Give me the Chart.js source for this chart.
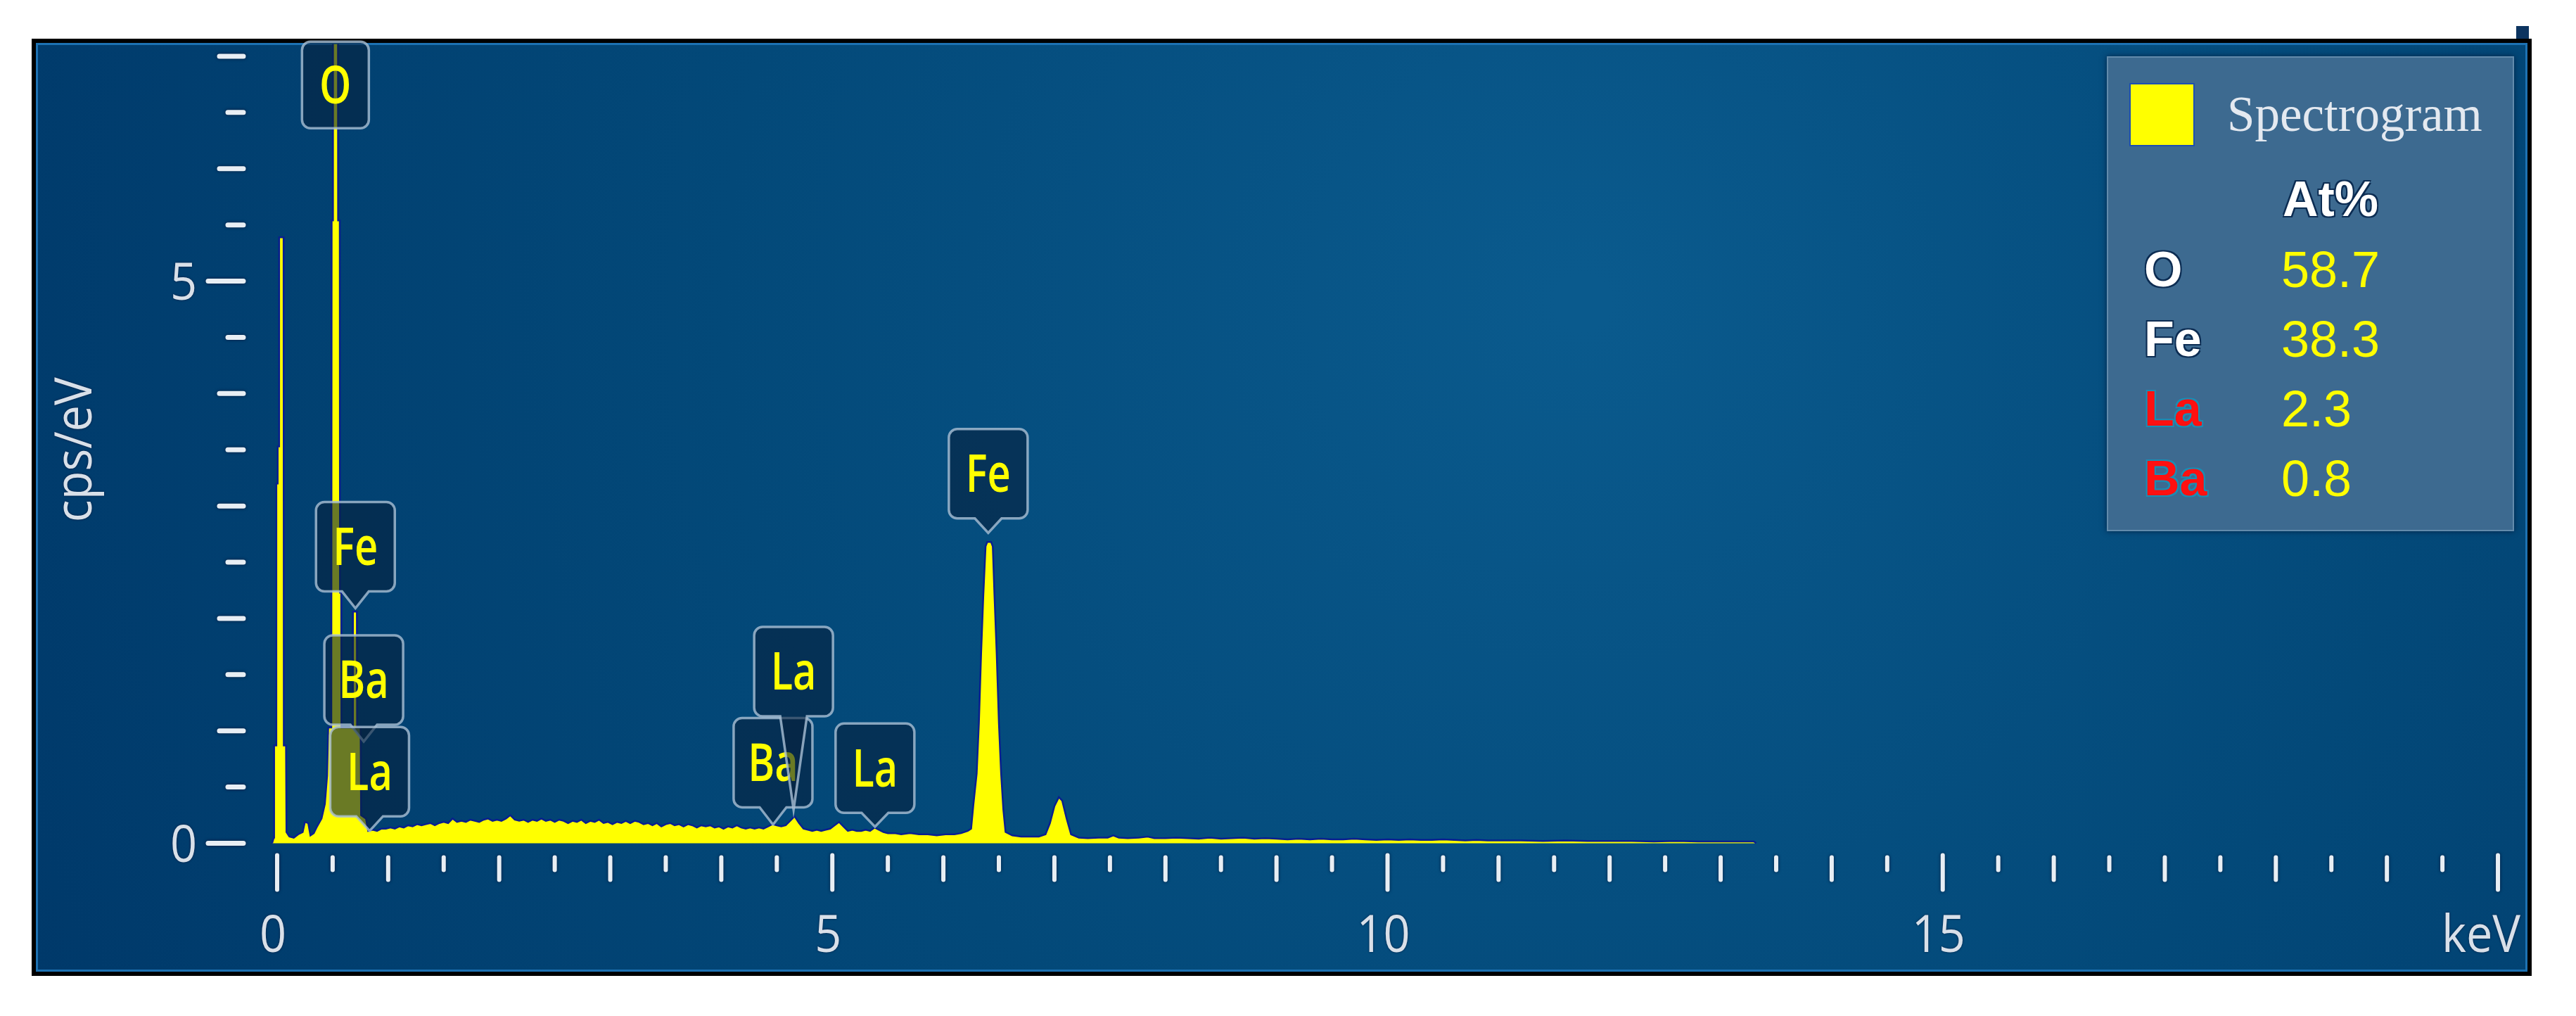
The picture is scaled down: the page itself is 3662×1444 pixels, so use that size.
<!DOCTYPE html>
<html>
<head>
<meta charset="utf-8">
<title>EDS spectrum</title>
<script src="https://cdn.jsdelivr.net/npm/chart.js@4.4.1/dist/chart.umd.min.js"></script>
<style>
  html, body { margin: 0; padding: 0; background: #fff; }
  #wrap { position: relative; width: 3662px; height: 1444px; overflow: hidden; }
  #chart { position: absolute; left: 0; top: 0; }
  .lg-box {
    position: absolute; left: 2995px; top: 80px; width: 579px; height: 675px;
    box-sizing: border-box; background: #3d6a90;
    border: 2px solid rgba(130, 165, 195, 0.55);
    box-shadow: 0 0 8px rgba(0, 20, 50, 0.7);
  }
  .lg-swatch {
    position: absolute; left: 3027px; top: 118px; width: 93px; height: 90px;
    box-sizing: border-box; background: #ffff00; border: 2px solid #1d4fb0;
  }
  .lg-text { position: absolute; white-space: nowrap; }
  .lg-title { font-family: "Liberation Serif", "DejaVu Serif", serif; font-size: 71px; line-height: 71px; color: #e4e9f0; }
  .lg-head {
    font-family: "Liberation Sans", Arial, sans-serif; font-weight: bold; font-size: 70px; line-height: 70px; color: #fff;
    text-shadow: 2px 2px 0 #0c2c52, -2px -2px 0 #0c2c52, 2px -2px 0 #0c2c52, -2px 2px 0 #0c2c52;
  }
  .lg-el {
    font-family: "Liberation Sans", Arial, sans-serif; font-weight: bold; font-size: 70px; line-height: 72px;
  }
  .lg-el.white { color: #fff; text-shadow: 2px 2px 0 #0c2c52, -2px -2px 0 #0c2c52, 2px -2px 0 #0c2c52, -2px 2px 0 #0c2c52; }
  .lg-el.red { color: #ff1010; text-shadow: 2px 2px 0 #1a8db4, -2px -2px 0 #1a8db4, 2px -2px 0 #1a8db4, -2px 2px 0 #1a8db4; }
  .lg-val { font-family: "Liberation Sans", Arial, sans-serif; font-size: 72px; line-height: 72px; color: #ffff00; }
</style>
</head>
<body>
<div id="wrap">
  <canvas id="chart" width="3662" height="1444"></canvas>
</div>
<script>
/* ── Spectrum: energy (keV) / intensity (cps/eV) ── */
var energyKeV = [
  -0.045, -0.03, -0.027, -0.009, -0.007, 0.003, 0.005, 0.016, 0.018, 0.058,
  0.060, 0.080, 0.084, 0.11, 0.15, 0.19, 0.23, 0.25, 0.28, 0.30,
  0.33, 0.36, 0.40, 0.43, 0.45, 0.46, 0.488, 0.491, 0.501, 0.503,
  0.547, 0.549, 0.564, 0.566, 0.577, 0.579, 0.681, 0.683, 0.718, 0.720,
  0.752, 0.756, 0.80, 0.82, 0.86, 0.90, 0.94, 0.98, 1.02, 1.06,
  1.10, 1.14, 1.18, 1.22, 1.26, 1.30, 1.34, 1.38, 1.42, 1.46,
  1.50, 1.54, 1.58, 1.62, 1.66, 1.70, 1.74, 1.78, 1.82, 1.86,
  1.90, 1.94, 1.98, 2.02, 2.06, 2.10, 2.14, 2.18, 2.22, 2.26,
  2.30, 2.34, 2.38, 2.42, 2.46, 2.50, 2.54, 2.58, 2.62, 2.66,
  2.70, 2.74, 2.78, 2.82, 2.86, 2.90, 2.94, 2.98, 3.02, 3.06,
  3.10, 3.14, 3.18, 3.22, 3.26, 3.30, 3.34, 3.38, 3.42, 3.46,
  3.50, 3.54, 3.58, 3.62, 3.66, 3.70, 3.74, 3.78, 3.82, 3.86,
  3.90, 3.94, 3.98, 4.02, 4.06, 4.10, 4.14, 4.18, 4.22, 4.26,
  4.30, 4.34, 4.38, 4.42, 4.46, 4.50, 4.54, 4.58, 4.62, 4.66,
  4.70, 4.74, 4.78, 4.82, 4.86, 4.90, 4.94, 4.98, 5.02, 5.06,
  5.10, 5.14, 5.18, 5.22, 5.26, 5.30, 5.34, 5.38, 5.42, 5.46,
  5.50, 5.56, 5.62, 5.70, 5.78, 5.86, 5.94, 6.02, 6.10, 6.16,
  6.22, 6.25, 6.27, 6.30, 6.32, 6.34, 6.36, 6.38, 6.395, 6.43,
  6.445, 6.46, 6.48, 6.50, 6.52, 6.54, 6.56, 6.62, 6.70, 6.78,
  6.86, 6.92, 6.96, 7.00, 7.04, 7.07, 7.11, 7.15, 7.22, 7.30,
  7.40, 7.48, 7.53, 7.58, 7.66, 7.76, 7.84, 7.90, 8.00, 8.10,
  8.20, 8.30, 8.40, 8.50, 8.60, 8.70, 8.80, 8.90, 9.00, 9.10,
  9.20, 9.30, 9.40, 9.50, 9.60, 9.70, 9.80, 9.90, 10.00, 10.10,
  10.20, 10.30, 10.40, 10.50, 10.60, 10.70, 10.80, 10.90, 11.00, 11.20,
  11.40, 11.60, 11.80, 12.00, 12.20, 12.40, 12.60, 12.80, 13.00, 13.30,
  13.32
];
var countsCps = [
  0, 0.05, 0.87, 0.87, 3.20, 3.20, 3.53, 3.53, 5.39, 5.39,
  0.87, 0.87, 0.10, 0.06, 0.05, 0.08, 0.10, 0.19, 0.18, 0.07,
  0.09, 0.15, 0.22, 0.35, 0.60, 1.03, 1.03, 5.54, 5.54, 9.0,
  9.0, 5.54, 5.54, 2.23, 2.23, 1.03, 1.03, 2.06, 2.06, 1.03,
  1.03, 0.25, 0.22, 0.11, 0.12, 0.11, 0.13, 0.13, 0.14, 0.13,
  0.15, 0.14, 0.16, 0.15, 0.17, 0.16, 0.17, 0.18, 0.16, 0.18,
  0.19, 0.18, 0.22, 0.19, 0.20, 0.19, 0.21, 0.20, 0.19, 0.21,
  0.22, 0.20, 0.21, 0.20, 0.22, 0.25, 0.21, 0.20, 0.21, 0.19,
  0.21, 0.20, 0.22, 0.20, 0.21, 0.19, 0.21, 0.20, 0.18, 0.20,
  0.19, 0.21, 0.18, 0.20, 0.19, 0.21, 0.18, 0.19, 0.17, 0.19,
  0.18, 0.20, 0.18, 0.20, 0.19, 0.17, 0.18, 0.16, 0.18, 0.15,
  0.17, 0.18, 0.16, 0.17, 0.15, 0.17, 0.16, 0.14, 0.16, 0.15,
  0.16, 0.14, 0.15, 0.13, 0.15, 0.14, 0.16, 0.14, 0.13, 0.14,
  0.13, 0.14, 0.13, 0.15, 0.17, 0.16, 0.15, 0.16, 0.20, 0.24,
  0.18, 0.13, 0.12, 0.11, 0.12, 0.11, 0.12, 0.13, 0.16, 0.19,
  0.15, 0.11, 0.12, 0.11, 0.11, 0.12, 0.11, 0.14, 0.12, 0.10,
  0.09, 0.09, 0.08, 0.09, 0.08, 0.08, 0.07, 0.08, 0.08, 0.09,
  0.11, 0.13, 0.34, 0.62, 1.07, 1.69, 2.21, 2.64, 2.68, 2.68,
  2.64, 2.21, 1.69, 1.07, 0.62, 0.30, 0.10, 0.07, 0.06, 0.06,
  0.06, 0.08, 0.18, 0.33, 0.41, 0.38, 0.22, 0.08, 0.05, 0.045,
  0.05, 0.05, 0.07, 0.05, 0.045, 0.05, 0.06, 0.045, 0.045, 0.05,
  0.045, 0.04, 0.05, 0.04, 0.045, 0.05, 0.04, 0.045, 0.04, 0.035,
  0.04, 0.035, 0.04, 0.035, 0.035, 0.04, 0.035, 0.03, 0.035, 0.03,
  0.035, 0.03, 0.03, 0.035, 0.03, 0.025, 0.03, 0.025, 0.025, 0.025,
  0.02, 0.025, 0.02, 0.02, 0.02, 0.015, 0.02, 0.015, 0.015, 0.015,
  0
];

/* ── Axis ticks and labels ─────────────────────────────────────── */
var xTickStep = 0.5;                    // keV between x tick marks
var xLabelValues = [0, 5, 10, 15, 20];
var xLabelTexts = ['0', '5', '10', '15', 'keV'];
var yTickStep = 0.5;                    // cps/eV between y tick marks
var yLabelValues = [0, 5];
var yLabelTexts = ['0', '5'];
var yAxisTitle = 'cps/eV';

/* ── Peak identification boxes ─────────────────────────────────── */
var peakNames  = ['O', 'Fe', 'Ba', 'La', 'Ba', 'La', 'La', 'Fe'];
var peakEnergy = [0.525, 0.705, 0.78, 0.833, 4.466, 4.651, 5.384, 6.404];
var peakBoxBottom = [6.36, 2.24, 1.055, 0.24, 0.32, 1.13, 0.27, 2.89];
var peakTip = [6.36, 2.09, 0.905, 0.11, 0.166, 0.30, 0.147, 2.76];

/* ── Quantification table ──────────────────────────────────────── */
var legendSeries = 'Spectrogram';
var legendHeader = 'At%';
var legendElements = ['O', 'Fe', 'La', 'Ba'];
var legendAtPct = ['58.7', '38.3', '2.3', '0.8'];
var legendElementRed = [false, false, true, true];

var TICK_COLOR = '#e8eef4';
var LABEL_COLOR = '#d9e0e9';
var LABEL_FONT = '74px "Open Sans", "Noto Sans", sans-serif';

function scaledText(ctx, str, x, y, align, sx) {
  ctx.save();
  ctx.translate(x, y);
  ctx.scale(sx, 1);
  ctx.textAlign = align;
  ctx.textBaseline = 'alphabetic';
  ctx.fillText(str, 0, 0);
  ctx.restore();
}

/* panel: white page, black frame, blue gradient */
var panelPlugin = {
  id: 'panel',
  beforeDraw: function(chart) {
    var ctx = chart.ctx;
    ctx.save();
    ctx.fillStyle = '#ffffff';
    ctx.fillRect(0, 0, chart.width, chart.height);
    ctx.fillStyle = '#0c3460';
    ctx.fillRect(3577, 37, 18, 18);
    ctx.fillStyle = '#000000';
    ctx.fillRect(45, 55, 3554, 1332);
    var g = ctx.createRadialGradient(2250, 430, 40, 2250, 430, 2400);
    g.addColorStop(0, '#0a5a8d');
    g.addColorStop(0.5, '#034979');
    g.addColorStop(1, '#00396a');
    ctx.fillStyle = g;
    ctx.fillRect(51, 61, 3542, 1320);
    ctx.strokeStyle = '#1d72b3';
    ctx.lineWidth = 3;
    ctx.strokeRect(52.5, 62.5, 3539, 1317);
    ctx.restore();
  }
};

/* tick marks and tick labels, placed through the chart scales */
var axisPlugin = {
  id: 'axisMarks',
  afterDraw: function(chart) {
    var ctx = chart.ctx;
    var xs = chart.scales.x, ys = chart.scales.y;
    var x0 = xs.getPixelForValue(0);
    var y0 = ys.getPixelForValue(0);
    var v, p, len;
    ctx.save();
    ctx.strokeStyle = TICK_COLOR;
    ctx.lineCap = 'round';
    ctx.shadowColor = 'rgba(0, 10, 40, 0.7)';
    ctx.shadowBlur = 4;

    // x ticks
    ctx.lineWidth = 6;
    for (v = 0; v <= 20 + 1e-9; v += xTickStep) {
      p = xs.getPixelForValue(v);
      var r = Math.round(v * 2) / 2;
      len = (r % 5 === 0) ? 49 : (r % 1 === 0) ? 32 : 18;
      var top = y0 + (r % 5 === 0 ? 17 : 20);
      ctx.beginPath();
      ctx.moveTo(p, top);
      ctx.lineTo(p, top + len);
      ctx.stroke();
    }

    // y ticks
    ctx.lineWidth = 7;
    for (v = 0; v <= 7 + 1e-9; v += yTickStep) {
      p = ys.getPixelForValue(v);
      var q = Math.round(v * 2) / 2;
      var start = (q % 5 === 0) ? x0 - 98 : (q % 1 === 0) ? x0 - 82 : x0 - 70;
      ctx.beginPath();
      ctx.moveTo(start, p);
      ctx.lineTo(x0 - 48, p);
      ctx.stroke();
    }

    // labels
    ctx.shadowBlur = 3;
    ctx.fillStyle = LABEL_COLOR;
    ctx.font = LABEL_FONT;
    xLabelValues.forEach(function(val, i) {
      var px = xs.getPixelForValue(val);
      if (xLabelTexts[i] === 'keV') {
        scaledText(ctx, xLabelTexts[i], px + 32, y0 + 154, 'right', 0.9);
      } else {
        scaledText(ctx, xLabelTexts[i], px - 6, y0 + 154, 'center', 0.9);
      }
    });
    yLabelValues.forEach(function(val, i) {
      var py = ys.getPixelForValue(val);
      scaledText(ctx, yLabelTexts[i], x0 - 114, py + 26, 'right', 0.9);
    });

    // rotated y title
    ctx.save();
    ctx.translate(130, (ys.getPixelForValue(3.5)));
    ctx.rotate(-Math.PI / 2);
    ctx.scale(0.9, 1);
    ctx.textAlign = 'center';
    ctx.fillText(yAxisTitle, 0, 0);
    ctx.restore();
    ctx.restore();
  }
};

/* peak label boxes with a pointer to the line */
var peakLabelPlugin = {
  id: 'peakLabels',
  afterDatasetsDraw: function(chart) {
    var ctx = chart.ctx;
    var xs = chart.scales.x, ys = chart.scales.y;
    ctx.save();
    peakNames.forEach(function(name, i) {
      var cx = xs.getPixelForValue(peakEnergy[i]);
      var bottom = ys.getPixelForValue(peakBoxBottom[i]);
      var tip = ys.getPixelForValue(peakTip[i]);
      var w = name.length === 1 ? 95 : 112;
      var h = name.length === 1 ? 123 : 127;
      var rad = 12, half = 19;
      var l = cx - w / 2, t = bottom - h;
      ctx.beginPath();
      ctx.moveTo(l + rad, t);
      ctx.lineTo(l + w - rad, t);
      ctx.arcTo(l + w, t, l + w, t + rad, rad);
      ctx.lineTo(l + w, bottom - rad);
      ctx.arcTo(l + w, bottom, l + w - rad, bottom, rad);
      if (tip > bottom + 1) {
        ctx.lineTo(cx + half, bottom);
        ctx.lineTo(cx, tip);
        ctx.lineTo(cx - half, bottom);
      }
      ctx.lineTo(l + rad, bottom);
      ctx.arcTo(l, bottom, l, bottom - rad, rad);
      ctx.lineTo(l, t + rad);
      ctx.arcTo(l, t, l + rad, t, rad);
      ctx.closePath();
      ctx.fillStyle = 'rgba(6, 34, 62, 0.6)';
      ctx.fill();
      ctx.strokeStyle = 'rgba(170, 192, 214, 0.8)';
      ctx.lineWidth = 3.5;
      ctx.stroke();

      ctx.fillStyle = '#ffff00';
      ctx.font = '600 74px "Open Sans", "Noto Sans", sans-serif';
      scaledText(ctx, name, cx, bottom - h / 2 + 26, 'center', 0.78);
    });
    ctx.restore();
  }
};

var points = energyKeV.map(function(e, i) { return { x: e, y: countsCps[i] }; });

new Chart(document.getElementById('chart'), {
  type: 'line',
  data: {
    datasets: [{
      label: legendSeries,
      data: points,
      fill: 'origin',
      backgroundColor: '#ffff00',
      borderColor: '#0a1f8f',
      borderWidth: 2.5,
      pointRadius: 0,
      tension: 0
    }]
  },
  options: {
    responsive: false,
    animation: false,
    devicePixelRatio: 1,
    layout: { padding: { left: 354.5, right: 79.4, top: 62.4, bottom: 239.1 } },
    scales: {
      x: { type: 'linear', min: -0.25, max: 20.2, display: false },
      y: { type: 'linear', min: -0.04, max: 7.11, display: false }
    },
    plugins: { legend: { display: false }, tooltip: { enabled: false } }
  },
  plugins: [panelPlugin, axisPlugin, peakLabelPlugin]
});

/* ── Quantification box (HTML overlay) ─────────────────────────── */
(function buildLegend() {
  var wrap = document.getElementById('wrap');
  function add(cls, text, left, top) {
    var d = document.createElement('div');
    d.className = cls;
    if (text != null) d.textContent = text;
    if (left != null) { d.style.left = left + 'px'; d.style.top = top + 'px'; }
    wrap.appendChild(d);
    return d;
  }
  add('lg-box');
  add('lg-swatch');
  add('lg-text lg-title', legendSeries, 3166, 127);
  add('lg-text lg-head', legendHeader, 3245, 248);
  var rowTop = 347, rowStep = 99;
  legendElements.forEach(function(el, i) {
    add('lg-text lg-el ' + (legendElementRed[i] ? 'red' : 'white'), el, 3048, rowTop + i * rowStep);
    add('lg-text lg-val', legendAtPct[i], 3243, rowTop + i * rowStep);
  });
})();
</script>
</body>
</html>
